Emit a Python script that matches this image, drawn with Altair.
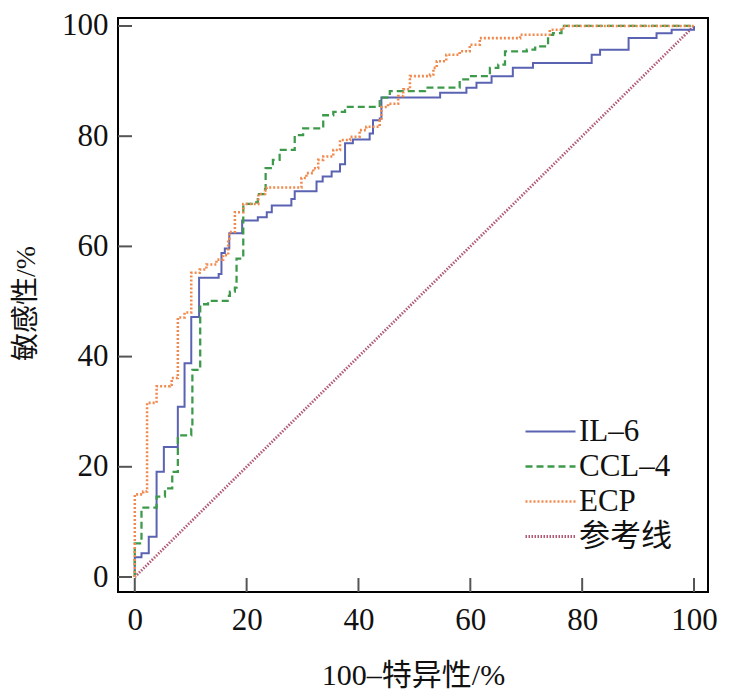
import altair as alt
import pandas as pd

# ---- data ----
series_names = ["IL–6", "CCL–4", "ECP", "参考线"]
series_colors = ["#5a62b2", "#3c9a4a", "#f08a4e", "#b25a74"]
series_dashes = [[1, 0], [7, 4], [2, 2], [1.5, 1.5]]
series_widths = [2.0, 2.8, 2.3, 1.4]

il6_x = [0, 0, 1.2, 2.5, 3.9, 5.2, 7.7, 8.9, 10.1, 11.5, 15.0, 15.5, 16.1, 16.9, 19.2,
         22.0, 23.6, 24.5, 28.0, 28.6, 32.5, 33.6, 35.2, 36.7, 37.6, 39.0, 42.0, 42.6,
         43.8, 44.1, 54.6, 59.3, 61.1, 63.8, 67.6, 71.2, 81.7, 83.2, 88.3, 93.3, 96.0, 100]
il6_y = [0, 3.6, 4.3, 7.3, 19.1, 23.6, 30.9, 38.8, 47.2, 54.3, 55.0, 58.8, 59.6, 62.4, 64.7,
         65.3, 66.2, 67.4, 68.6, 70.0, 71.8, 72.7, 73.6, 74.9, 78.7, 79.4, 80.5, 82.9,
         83.2, 87.0, 87.9, 88.8, 89.7, 90.9, 92.4, 93.3, 94.8, 95.7, 97.8, 98.7, 99.3, 100]

ccl4_x = [0, 0, 1.2, 3.9, 5.4, 6.7, 7.7, 10.1, 10.3, 11.7, 13.1, 16.6, 17.0, 17.9, 18.2,
          19.4, 21.1, 22.0, 23.3, 23.4, 24.7, 25.9, 28.6, 30.1, 33.7, 35.5, 37.6, 37.9,
          43.8, 45.6, 51.9, 58.1, 59.6, 63.5, 65.0, 66.2, 70.1, 71.6, 73.9, 74.8, 76.3, 100]
ccl4_y = [0, 6.1, 12.6, 14.6, 16.1, 19.1, 25.7, 26.9, 37.6, 49.5, 50.1, 51.0, 51.8, 52.5, 57.8,
          67.7, 68.0, 69.5, 70.4, 74.2, 75.7, 77.5, 80.2, 81.4, 83.8, 84.4, 84.7, 85.3,
          87.0, 88.2, 88.8, 90.3, 90.9, 92.4, 93.0, 95.4, 95.7, 96.3, 98.4, 98.7, 100, 100]

ecp_x = [0, 0, 1.5, 2.2, 3.9, 6.3, 6.6, 7.7, 8.9, 10.1, 11.6, 12.8, 14.6, 15.8, 16.7, 16.9,
         17.9, 19.4, 22.1, 23.3, 23.6, 29.8, 30.7, 31.9, 32.8, 33.7, 35.5, 36.7, 38.5, 40.2,
         41.4, 43.8, 44.1, 45.3, 47.1, 48.0, 49.2, 52.8, 53.4, 54.0, 55.7, 58.1, 59.9, 61.7,
         68.9, 74.2, 76.6, 100]
ecp_y = [0, 15.0, 15.5, 31.6, 34.6, 34.9, 36.1, 47.1, 48.0, 55.2, 55.8, 56.7, 57.6, 58.4, 61.4, 62.6,
         66.2, 67.7, 69.5, 70.1, 70.7, 72.4, 73.3, 74.2, 75.7, 76.3, 77.5, 79.3, 79.9, 81.1,
         81.7, 82.9, 85.3, 85.9, 87.3, 88.5, 90.9, 91.2, 92.4, 93.6, 94.8, 95.4, 96.6, 97.8,
         98.4, 99.3, 100, 100]

ref_x = [0, 100]
ref_y = [0, 100]

tick_vals = [0, 20, 40, 60, 80, 100]

# ---- tables ----
rows = []
for name, xs_, ys_ in [(series_names[0], il6_x, il6_y),
                       (series_names[1], ccl4_x, ccl4_y),
                       (series_names[2], ecp_x, ecp_y)]:
    for i, (a, b) in enumerate(zip(xs_, ys_)):
        rows.append({"series": name, "fpr": a, "tpr": b, "idx": i})
df_curves = pd.DataFrame(rows)
df_ref = pd.DataFrame({"series": series_names[3], "fpr": ref_x, "tpr": ref_y, "idx": [0, 1]})
df_ticks = pd.DataFrame({"v": tick_vals})

FONT = "Liberation Serif, Noto Sans CJK SC"
W, H = 590, 574

xs = alt.Scale(domain=[-3, 102.5], nice=False, zero=False)
ys = alt.Scale(domain=[-2.72, 101.45], nice=False, zero=False)
color_scale = alt.Scale(domain=series_names, range=series_colors)
dash_scale = alt.Scale(domain=series_names, range=series_dashes)
width_scale = alt.Scale(domain=series_names, range=series_widths)

x_axis = alt.Axis(values=tick_vals, title="100–特异性/%", labelPadding=13,
                  titleX=295, titleY=83, titleBaseline="middle", titleAlign="center")
y_axis = alt.Axis(values=tick_vals, title="敏感性/%", labelPadding=10,
                  titleX=-92, titleY=285, titleBaseline="middle", titleAlign="center",
                  titleAngle=270, titleFontSize=28)

legend = alt.Legend(title=None, orient="none", legendX=402, legendY=398,
                    symbolType="M-1,0H4", symbolSize=400, symbolStrokeWidth=1.6,
                    labelFont=FONT, labelFontSize=31, labelColor="#111",
                    labelOffset=28, padding=0, rowPadding=3)

enc_common = dict(
    x=alt.X("fpr:Q", scale=xs, axis=x_axis),
    y=alt.Y("tpr:Q", scale=ys, axis=y_axis),
    color=alt.Color("series:N", scale=color_scale, legend=legend),
    strokeDash=alt.StrokeDash("series:N", scale=dash_scale, legend=legend),
    strokeWidth=alt.StrokeWidth("series:N", scale=width_scale, legend=None),
    order=alt.Order("idx:Q"),
)

ytick = alt.Chart(df_ticks).mark_rule(color="#555", strokeWidth=2).encode(
    y=alt.Y("v:Q", scale=ys, axis=y_axis), x=alt.value(0), x2=alt.value(14))
xtick = alt.Chart(df_ticks).mark_rule(color="#555", strokeWidth=2).encode(
    x=alt.X("v:Q", scale=xs, axis=x_axis), y=alt.value(H), y2=alt.value(H - 14))

ref = alt.Chart(df_ref).mark_line(interpolate="linear").encode(**enc_common)
curves = alt.Chart(df_curves).mark_line(interpolate="step-after").encode(**enc_common)

chart = alt.layer(ytick, xtick, ref, curves).properties(
    width=W, height=H,
    autosize=alt.AutoSizeParams(type="none"),
    padding={"left": 110, "top": 10, "right": 12, "bottom": 100},
).configure_view(
    stroke="#000", strokeWidth=2
).configure_axis(
    domain=False, grid=False, ticks=False, tickSize=0,
    labelFont=FONT, labelFontSize=31, labelColor="#111",
    titleFont=FONT, titleFontSize=30, titleColor="#111", titleFontWeight="normal",
)

chart.save("out.html", embed_options={"renderer": "svg", "actions": False})
